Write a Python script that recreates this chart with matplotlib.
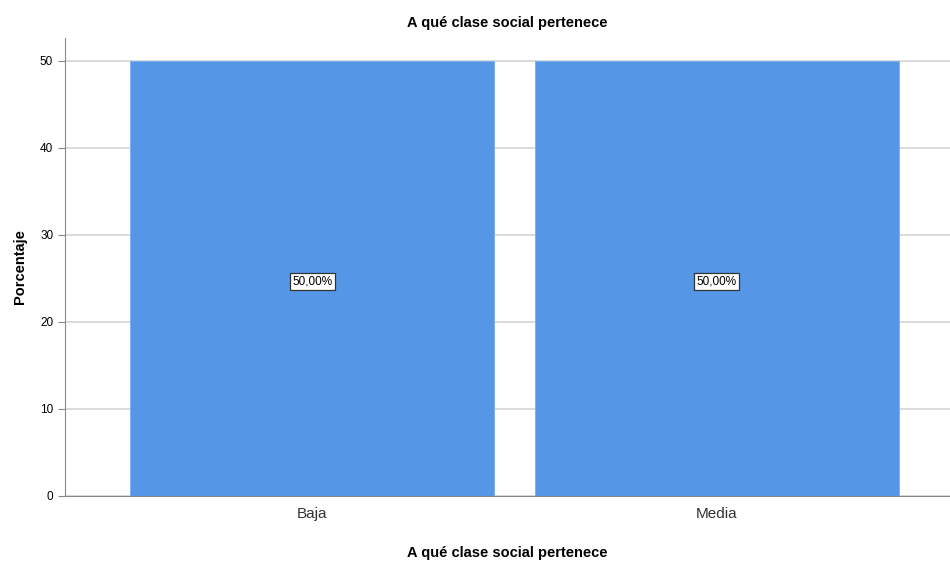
import matplotlib.pyplot as plt

categories = ["Baja", "Media"]
percentages = [50.0, 50.0]
labels = ["50,00%", "50,00%"]
y_ticks = [0, 10, 20, 30, 40, 50]

plt.rcParams["font.family"] = ["Arial", "Liberation Sans", "DejaVu Sans"]

fig = plt.figure(figsize=(9.5, 5.61), dpi=100)
ax = fig.add_axes([0.0684, 0.1159, 0.9316, 0.8164])

x = range(len(categories))
ax.bar(x, percentages, width=0.9, color="#5596e6", edgecolor="#7aaef0",
       linewidth=0.6, zorder=3)

for xi, val, lab in zip(x, percentages, labels):
    ax.annotate(lab, (xi, val / 2), xytext=(0, -2.5), textcoords="offset points",
                ha="center", va="center", fontsize=8.5, color="black", zorder=4,
                bbox=dict(boxstyle="square,pad=0.2", facecolor="white",
                          edgecolor="#333333", linewidth=0.9))

ax.set_xlim(-0.611, 1.577)
ax.set_ylim(0, 52.6)
ax.set_yticks(y_ticks)
ax.set_xticks(list(x))
ax.set_xticklabels(categories, fontsize=11, color="#333333")
ax.tick_params(axis="y", labelsize=8.5, length=5, color="#888888")
ax.tick_params(axis="x", length=0, pad=8)
ax.yaxis.grid(True, color="#d4d4d4", linewidth=1.2, zorder=0)
ax.set_axisbelow(True)

for side in ["top", "right"]:
    ax.spines[side].set_visible(False)
ax.spines["left"].set_color("#888888")
ax.spines["bottom"].set_color("#888888")

ax.set_title("A qué clase social pertenece", fontsize=10.5, fontweight="bold", pad=8)
ax.set_ylabel("Porcentaje", fontsize=10.5, fontweight="bold", labelpad=9)
ax.set_xlabel("A qué clase social pertenece", fontsize=10.5, fontweight="bold", labelpad=18)

fig.savefig("out.png", dpi=100)
